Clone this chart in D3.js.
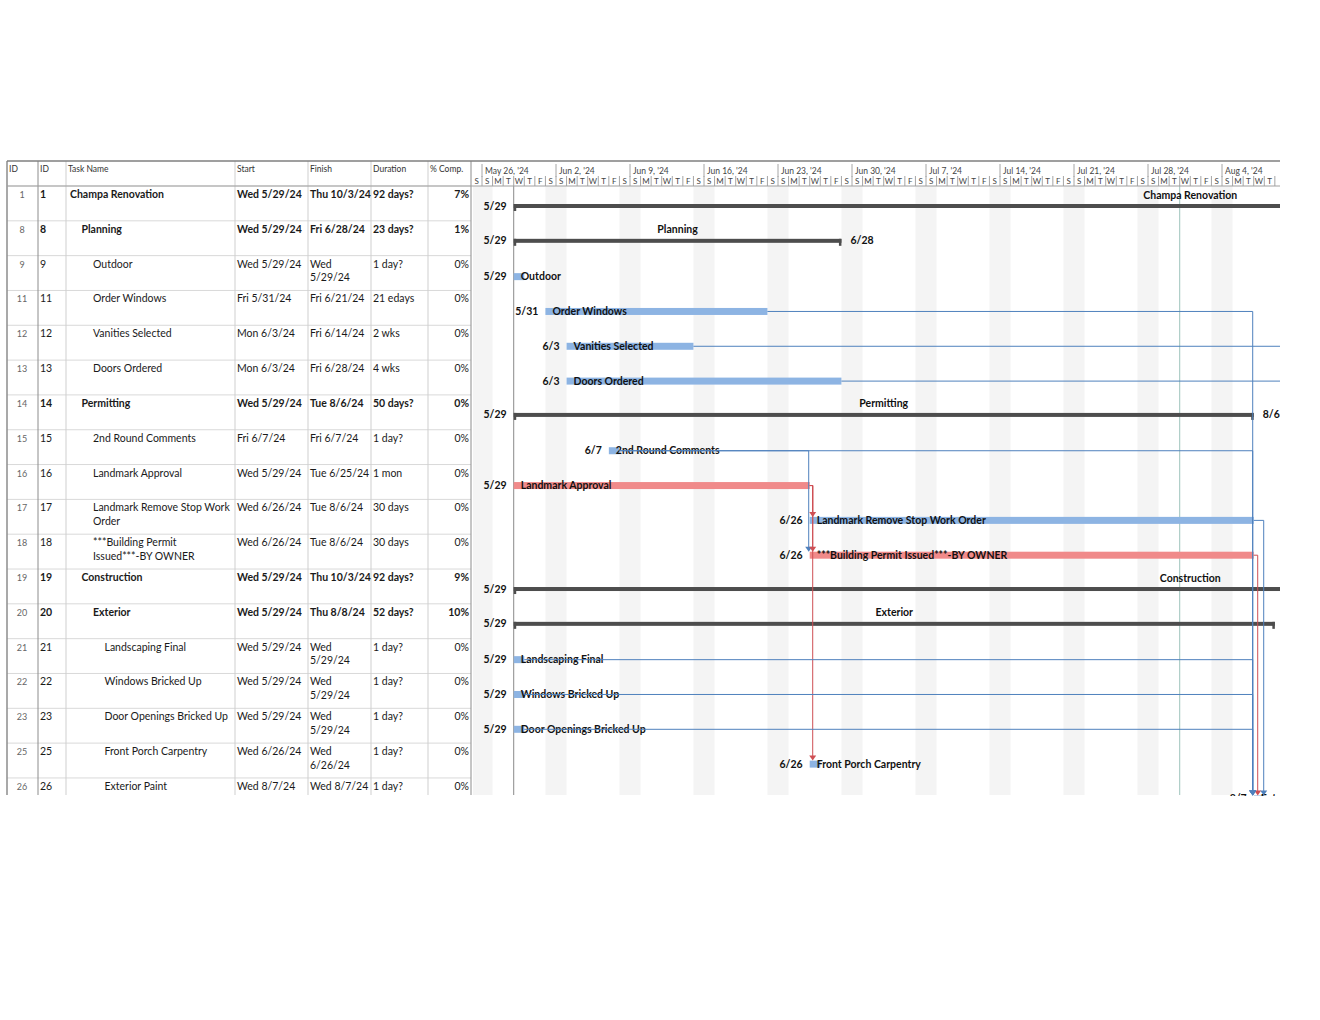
<!DOCTYPE html>
<html>
<head>
<meta charset="utf-8">
<script src="https://cdn.jsdelivr.net/npm/d3@7"></script>
<style>
body { margin: 0; background: #fff; }
svg text { font-family: Lato, "Open Sans", sans-serif; }
</style>
</head>
<body>
<svg id="chart" width="1320" height="1020"></svg>
<script>
// table data, one entry per visible row
var rowIds = [1, 8, 9, 11, 12, 13, 14, 15, 16, 17, 18, 19, 20, 21, 22, 23, 25, 26];
var taskNames = ["Champa Renovation", "Planning", "Outdoor", "Order Windows", "Vanities Selected",
  "Doors Ordered", "Permitting", "2nd Round Comments", "Landmark Approval",
  "Landmark Remove Stop Work Order", "***Building Permit Issued***-BY OWNER", "Construction",
  "Exterior", "Landscaping Final", "Windows Bricked Up", "Door Openings Bricked Up",
  "Front Porch Carpentry", "Exterior Paint"];
var outlineLevel = [1, 2, 3, 3, 3, 3, 2, 3, 3, 3, 3, 2, 3, 4, 4, 4, 4, 4];
var startText = ["Wed 5/29/24", "Wed 5/29/24", "Wed 5/29/24", "Fri 5/31/24", "Mon 6/3/24", "Mon 6/3/24",
  "Wed 5/29/24", "Fri 6/7/24", "Wed 5/29/24", "Wed 6/26/24", "Wed 6/26/24", "Wed 5/29/24",
  "Wed 5/29/24", "Wed 5/29/24", "Wed 5/29/24", "Wed 5/29/24", "Wed 6/26/24", "Wed 8/7/24"];
var finishText = ["Thu 10/3/24", "Fri 6/28/24", "Wed 5/29/24", "Fri 6/21/24", "Fri 6/14/24", "Fri 6/28/24",
  "Tue 8/6/24", "Fri 6/7/24", "Tue 6/25/24", "Tue 8/6/24", "Tue 8/6/24", "Thu 10/3/24",
  "Thu 8/8/24", "Wed 5/29/24", "Wed 5/29/24", "Wed 5/29/24", "Wed 6/26/24", "Wed 8/7/24"];
var durationText = ["92 days?", "23 days?", "1 day?", "21 edays", "2 wks", "4 wks", "50 days?", "1 day?",
  "1 mon", "30 days", "30 days", "92 days?", "52 days?", "1 day?", "1 day?", "1 day?", "1 day?", "1 day?"];
var pctText = ["7%", "1%", "0%", "0%", "0%", "0%", "0%", "0%", "0%", "0%", "0%", "9%", "10%",
  "0%", "0%", "0%", "0%", "0%"];
var summaryIds = [1, 8, 14, 19, 20];
var criticalIds = [16, 18];
// predecessor -> successor (null = successor lies outside the view)
var links = [[11, 26], [12, null], [13, null], [15, 18], [15, 26], [16, 17], [16, 18], [16, 25],
  [18, 26], [17, 26], [21, 26], [22, 26], [23, 26]];
var headerLabels = ["ID", "ID", "Task Name", "Start", "Finish", "Duration", "% Comp."];
var dayLetters = ["S", "M", "T", "W", "T", "F", "S"];
var statusDate = "2024-07-31";

var svg = d3.select("#chart");
var parseTable = d3.timeParse("%a %m/%d/%y");
var shortDate = d3.timeFormat("%-m/%-d");

var top0 = 161, headH = 25, rowH = 34.82, bottom = 795;
var tlLeft = 473, tlRight = 1280;
var cols = [7, 38, 66, 235, 308, 371, 428, 471];

var x = d3.scaleTime()
  .domain([new Date(2024, 4, 26), new Date(2024, 6, 28)])
  .range([482, 482 + 63 * 74 / 7]);
var y = d3.scaleLinear().domain([0, 1]).range([top0 + headH, top0 + headH + rowH]);

var tasks = rowIds.map(function(id, i) {
  var s = parseTable(startText[i]), f = parseTable(finishText[i]);
  var elapsed = durationText[i].indexOf("edays") >= 0;
  return {
    id: id, i: i, name: taskNames[i], level: outlineLevel[i],
    summary: summaryIds.indexOf(id) >= 0,
    critical: criticalIds.indexOf(id) >= 0,
    start: elapsed ? d3.timeDay.offset(s, 1) : s,
    end: d3.timeDay.offset(f, 1),
    startLabel: shortDate(s), finishLabel: shortDate(f)
  };
});
var byId = {};
tasks.forEach(function(t) { byId[t.id] = t; });

// ---------- table ----------
var table = svg.append("g");
table.append("defs").append("clipPath").attr("id", "tclip")
  .append("rect").attr("x", 0).attr("y", top0).attr("width", tlLeft).attr("height", bottom - top0);
var tbody = table.append("g").attr("clip-path", "url(#tclip)");

tbody.selectAll("line.rowsep")
  .data(tasks)
  .enter().append("line")
  .attr("x1", cols[0]).attr("x2", cols[7])
  .attr("y1", function(d) { return y(d.i); })
  .attr("y2", function(d) { return y(d.i); })
  .attr("stroke", "#d9d9d9");

tbody.selectAll("line.colsep")
  .data(cols)
  .enter().append("line")
  .attr("x1", function(d) { return d; }).attr("x2", function(d) { return d; })
  .attr("y1", top0).attr("y2", bottom)
  .attr("stroke", function(d, i) { return (i == 0 || i == 1 || i == 7) ? "#8c8c8c" : "#cfcfcf"; })
  .attr("stroke-width", function(d, i) { return i == 0 ? 1.5 : 1; });

table.selectAll("text.head")
  .data(headerLabels)
  .enter().append("text")
  .attr("x", function(d, i) { return cols[i] + 2; })
  .attr("y", top0 + 11)
  .attr("font-size", 8.5)
  .attr("fill", "#333")
  .text(function(d) { return d; });

var measurer = svg.append("text").attr("font-size", 10.5).attr("visibility", "hidden");
function wrapLines(str, maxW, bold) {
  measurer.attr("font-weight", bold ? 700 : 400);
  var words = str.split(" "), lines = [], cur = "";
  words.forEach(function(w) {
    var test = cur ? cur + " " + w : w;
    measurer.text(test);
    if (cur && measurer.node().getComputedTextLength() > maxW) {
      lines.push(cur);
      cur = w;
    } else cur = test;
  });
  lines.push(cur);
  return lines;
}

function cellText(g, str, x0, right, t) {
  var lines = t.summary ? [str] : wrapLines(str, right - x0, false);
  var txt = g.append("text")
    .attr("y", y(t.i) + 12)
    .attr("font-size", 10.5)
    .attr("font-weight", t.summary ? 700 : 400)
    .attr("fill", "#1a1a1a");
  lines.forEach(function(l, k) {
    txt.append("tspan").attr("x", x0).attr("dy", k ? 13.5 : 0).text(l);
  });
}

tasks.forEach(function(t) {
  tbody.append("text")
    .attr("x", 22).attr("y", y(t.i) + 12)
    .attr("text-anchor", "middle")
    .attr("font-size", 9).attr("fill", "#666")
    .text(t.id);
  cellText(tbody, String(t.id), 40, cols[2], t);
  cellText(tbody, t.name, 70 + (t.level - 1) * 11.5, cols[3], t);
  cellText(tbody, startText[t.i], 237, cols[4], t);
  cellText(tbody, finishText[t.i], 310, cols[5], t);
  cellText(tbody, durationText[t.i], 373, cols[6], t);
  tbody.append("text")
    .attr("x", cols[7] - 2).attr("y", y(t.i) + 12)
    .attr("text-anchor", "end")
    .attr("font-size", 10.5)
    .attr("font-weight", t.summary ? 700 : 400)
    .attr("fill", "#1a1a1a")
    .text(pctText[t.i]);
});
measurer.remove();

// ---------- timeline ----------
var tl = svg.append("g");
tl.append("defs").append("clipPath").attr("id", "gclip")
  .append("rect").attr("x", tlLeft).attr("y", top0).attr("width", tlRight - tlLeft).attr("height", bottom - top0 + 1);
var g = tl.append("g").attr("clip-path", "url(#gclip)");

var days = d3.timeDay.range(new Date(2024, 4, 25), new Date(2024, 7, 12));
var weeks = d3.timeWeek.range(new Date(2024, 4, 26), new Date(2024, 7, 12));
function inView(px) { return px > tlLeft && px < tlRight; }

g.selectAll("rect.weekend")
  .data(days.filter(function(d) { return d.getDay() == 0 || d.getDay() == 6; }))
  .enter().append("rect")
  .attr("x", function(d) { return x(d); })
  .attr("width", function(d) { return x(d3.timeDay.offset(d, 1)) - x(d); })
  .attr("y", top0 + headH).attr("height", bottom - top0 - headH)
  .attr("fill", "#f4f4f4");

// header tiers
g.selectAll("line.wk")
  .data(weeks)
  .enter().append("line")
  .attr("x1", function(d) { return x(d); }).attr("x2", function(d) { return x(d); })
  .attr("y1", top0 + 3).attr("y2", top0 + 16)
  .attr("stroke", "#a6a6a6");
g.selectAll("text.wk")
  .data(weeks.filter(function(d) { return inView(x(d) + 45); }))
  .enter().append("text")
  .attr("x", function(d) { return x(d) + 3; })
  .attr("y", top0 + 13)
  .attr("font-size", 8.5).attr("fill", "#444")
  .text(function(d) { return d3.timeFormat("%b %-d, '%y")(d); });
g.selectAll("line.day")
  .data(days)
  .enter().append("line")
  .attr("x1", function(d) { return x(d); }).attr("x2", function(d) { return x(d); })
  .attr("y1", top0 + 15).attr("y2", top0 + headH)
  .attr("stroke", "#a6a6a6");
g.selectAll("text.day")
  .data(days.filter(function(d) { return inView(x(d3.timeDay.offset(d, 1)) - 2); }))
  .enter().append("text")
  .attr("x", function(d) { return (x(d) + x(d3.timeDay.offset(d, 1))) / 2; })
  .attr("y", top0 + 23)
  .attr("text-anchor", "middle")
  .attr("font-size", 8).attr("fill", "#444")
  .text(function(d) { return dayLetters[d.getDay()]; });

// project start and status lines
var projStart = byId[1].start;
g.append("line")
  .attr("x1", x(projStart)).attr("x2", x(projStart))
  .attr("y1", top0 + headH).attr("y2", bottom)
  .attr("stroke", "#8a8a8a");
var sd = d3.timeParse("%Y-%m-%d")(statusDate);
g.append("line")
  .attr("x1", x(sd)).attr("x2", x(sd))
  .attr("y1", top0 + headH).attr("y2", bottom)
  .attr("stroke", "#9dc3bb");

function barMid(t) { return y(t.i) + (t.summary ? 20 : 21); }

// summary bars
var sums = tasks.filter(function(t) { return t.summary; });
g.selectAll("rect.sum")
  .data(sums)
  .enter().append("rect")
  .attr("x", function(d) { return x(d.start); })
  .attr("width", function(d) { return x(d.end) - x(d.start); })
  .attr("y", function(d) { return barMid(d) - 2; })
  .attr("height", 4)
  .attr("fill", "#4d4d4d");
sums.forEach(function(d) {
  [x(d.start), x(d.end) - 2.5].forEach(function(px) {
    g.append("rect").attr("x", px).attr("y", barMid(d) - 2).attr("width", 2.5).attr("height", 7).attr("fill", "#4d4d4d");
  });
});
g.selectAll("text.sumname")
  .data(sums)
  .enter().append("text")
  .attr("x", function(d) { return (x(d.start) + x(d.end)) / 2; })
  .attr("y", function(d) { return y(d.i) + 12.5; })
  .attr("text-anchor", "middle")
  .attr("font-size", 10.5).attr("font-weight", 700).attr("fill", "#111")
  .text(function(d) { return d.name; });
g.selectAll("text.sumfin")
  .data(sums.filter(function(d) { return inView(x(d.end) + 20); }))
  .enter().append("text")
  .attr("x", function(d) { return x(d.end) + 9; })
  .attr("y", function(d) { return barMid(d) + 3.5; })
  .attr("font-size", 10.5).attr("font-weight", 700).attr("fill", "#111")
  .text(function(d) { return d.finishLabel; });

// task bars
var work = tasks.filter(function(t) { return !t.summary; });
g.selectAll("rect.task")
  .data(work)
  .enter().append("rect")
  .attr("x", function(d) { return x(d.start); })
  .attr("width", function(d) { return x(d.end) - x(d.start); })
  .attr("y", function(d) { return barMid(d) - 3.5; })
  .attr("height", 7)
  .attr("fill", function(d) { return d.critical ? "#f08a8a" : "#8db4e3"; });
g.selectAll("text.taskname")
  .data(work)
  .enter().append("text")
  .attr("x", function(d) { return x(d.start) + 7; })
  .attr("y", function(d) { return barMid(d) + 3.5; })
  .attr("font-size", 10.5).attr("font-weight", 700).attr("fill", "#111")
  .text(function(d) { return d.name; });
g.selectAll("text.startlab")
  .data(tasks)
  .enter().append("text")
  .attr("x", function(d) { return x(d.start) - 7; })
  .attr("y", function(d) { return barMid(d) + 3.5; })
  .attr("text-anchor", "end")
  .attr("font-size", 10.5).attr("font-weight", 700).attr("fill", "#111")
  .text(function(d) { return d.startLabel; });

// dependency links
var hooked = {};
links.forEach(function(l) {
  var p = byId[l[0]], s = l[1] == null ? null : byId[l[1]];
  var x1 = x(p.end), y1 = barMid(p);
  var col = (p.critical && s && (s.critical || s.id == 25 || s.id == 17 || s.id == 26)) ? "#cf4f53" : "#4f81bd";
  if (!s) {
    g.append("path").attr("d", "M" + x1 + "," + y1 + "H" + (tlRight + 10))
      .attr("fill", "none").attr("stroke", col);
    return;
  }
  var tx = x(s.start), vx;
  if (tx > x1 + 4) vx = tx - 1;
  else if (s.id != 26) vx = x1 + 3;
  else {
    var k = hooked[s.id] || 0;
    hooked[s.id] = k + 1;
    vx = x1 + 4 + 6 * k;
  }
  var ty = barMid(s) - 3.5;
  g.append("path").attr("d", "M" + x1 + "," + y1 + "H" + vx + "V" + (ty - 4))
    .attr("fill", "none").attr("stroke", col);
  g.append("path").attr("d", "M" + (vx - 3.5) + "," + (ty - 5) + "L" + (vx + 3.5) + "," + (ty - 5) + "L" + vx + "," + ty + "Z")
    .attr("fill", col);
});

// header frame lines
svg.append("line").attr("x1", cols[0]).attr("x2", tlRight).attr("y1", top0).attr("y2", top0)
  .attr("stroke", "#7f7f7f").attr("stroke-width", 1.5);
svg.append("line").attr("x1", cols[0]).attr("x2", tlRight).attr("y1", top0 + headH).attr("y2", top0 + headH)
  .attr("stroke", "#a0a0a0");
</script>
</body>
</html>
